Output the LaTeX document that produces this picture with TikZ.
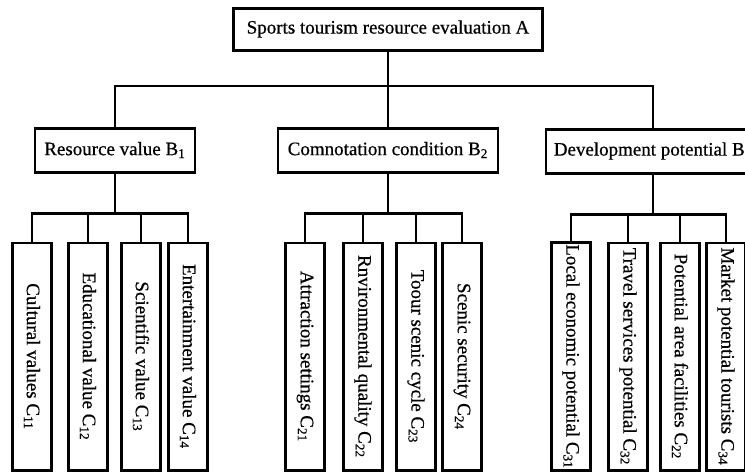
\documentclass[tikz,border=0pt]{standalone}
\usepackage{fontspec}
\setmainfont{Liberation Serif}[FakeBold=0.6]
\usetikzlibrary{calc}
\tikzset{
  box/.style={draw,line width=1.7pt,inner sep=1pt,align=center},
  abox/.style={box,minimum width=61.8mm,minimum height=8.4mm},
  bbox/.style={box,minimum height=8.8mm},
  cbox/.style={box,minimum width=7.8mm,minimum height=45.4mm},
  link/.style={line width=1.4pt}
}
\begin{document}
\begin{tikzpicture}[x=0.2mm,y=-0.2mm,font=\fontsize{10.8pt}{13pt}\selectfont]
  \useasboundingbox (0,0) rectangle (745,472);
  \clip (0,0) rectangle (745,472);
  % goal and criteria
  \node[abox] (A) at (388,29) {Sports tourism resource evaluation A};
  \node[bbox,minimum width=32mm] (B1) at (115,150) {Resource value B\textsubscript{1}};
  \node[bbox,minimum width=44mm] (B2) at (388,150) {Comnotation condition B\textsubscript{2}};
  \node[bbox,minimum width=42.8mm] (B3) at (653,151) {Development potential B\textsubscript{3}};
  % indicators
  \node[cbox] (C11) at (32,356.5) {\rotatebox{-90}{Cultural values C\textsubscript{11}}};
  \node[cbox] (C12) at (88,356.5) {\rotatebox{-90}{Educational value C\textsubscript{12}}};
  \node[cbox] (C13) at (141,356.5) {\rotatebox{-90}{Scientific value C\textsubscript{13}}};
  \node[cbox] (C14) at (188,356.5) {\rotatebox{-90}{Entertainment value C\textsubscript{14}}};
  \node[cbox] (C21) at (305,356.5) {\rotatebox{-90}{Attraction settings C\textsubscript{21}}};
  \node[cbox] (C22) at (363,356.5) {\rotatebox{-90}{Rnvironmental quality C\textsubscript{22}}};
  \node[cbox] (C23) at (416,356.5) {\rotatebox{-90}{Toour scenic cycle C\textsubscript{23}}};
  \node[cbox] (C24) at (462,356.5) {\rotatebox{-90}{Scenic security C\textsubscript{24}}};
  \node[cbox] (C31) at (571,356.5) {\rotatebox{-90}{Local economic potential C\textsubscript{31}}};
  \node[cbox] (C32) at (628,356.5) {\rotatebox{-90}{Travel services potential C\textsubscript{32}}};
  \node[cbox] (C33) at (680,356.5) {\rotatebox{-90}{Potential area facilities C\textsubscript{22}}};
  \node[cbox] (C34) at (726,356.5) {\rotatebox{-90}{Market potential tourists C\textsubscript{34}}};
  % tree lines
  \coordinate (barA) at (388,86);
  \draw[link] (A.south) -- (B2.north);
  \draw[link] (B1.north) |- (barA) -| (B3.north);
  \foreach \b in {1,2,3} {
    \coordinate (bar\b) at ($(B\b.south)+(0,40)$);
    \draw[link] (B\b.south) -- (bar\b);
    \draw[link] (C\b1.north) |- (bar\b) -| (C\b4.north);
    \draw[link] (C\b2.north) -- (C\b2.north |- bar\b);
    \draw[link] (C\b3.north) -- (C\b3.north |- bar\b);
  }
\end{tikzpicture}
\end{document}
